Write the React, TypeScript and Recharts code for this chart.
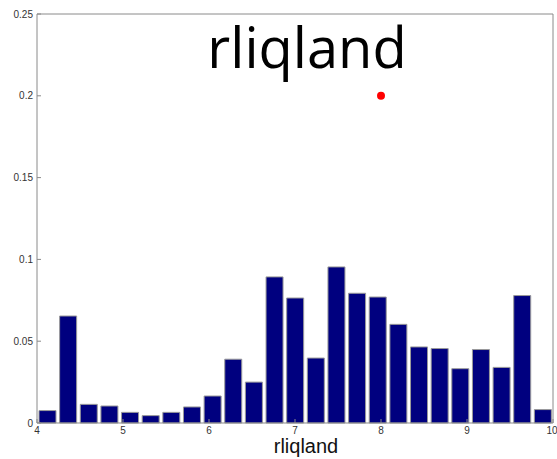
import { Bar, ComposedChart, ReferenceDot, XAxis, YAxis } from "recharts";

// bin centres of the histogram (rliqland)
const binCenters = [
  4.12, 4.36, 4.6, 4.84, 5.08, 5.32, 5.56, 5.8, 6.04, 6.28, 6.52, 6.76, 7.0,
  7.24, 7.48, 7.72, 7.96, 8.2, 8.44, 8.68, 8.92, 9.16, 9.4, 9.64, 9.88,
];
const frequencies = [
  0.0076, 0.0654, 0.0114, 0.0104, 0.0065, 0.0045, 0.0065, 0.0098, 0.0165,
  0.039, 0.025, 0.0893, 0.0764, 0.0397, 0.0954, 0.0793, 0.077, 0.0603, 0.0465,
  0.0455, 0.0332, 0.0449, 0.034, 0.0779, 0.0082,
];
const xTicks = [4, 5, 6, 7, 8, 9, 10];
const yTicks = [0, 0.05, 0.1, 0.15, 0.2, 0.25];
const marker = { x: 8, y: 0.2 };

const axisColor = "#8a8a8a";
const tickStyle = { fill: "#333", fontSize: 10, fontFamily: "Liberation Sans, Arial, sans-serif" };

export default function App() {
  const data = binCenters.map((x, i) => ({ bin: String(x), x, value: frequencies[i] }));

  return (
    <div style={{ position: "absolute", left: 0, top: 0, width: 557, height: 459, background: "#fff" }}>
      <ComposedChart
        width={557}
        height={459}
        data={data}
        margin={{ top: 14, right: 4, left: 0, bottom: 0 }}
      >
        <XAxis
          xAxisId="num"
          dataKey="x"
          type="number"
          domain={[4, 10]}
          allowDataOverflow
          ticks={xTicks}
          height={36}
          stroke={axisColor}
          tickSize={-4}
          tickMargin={8}
          tick={tickStyle}
        />
        <XAxis xAxisId="cat" dataKey="bin" type="category" height={0} hide />
        {/* box edges: top and right axes, ticks pointing inward */}
        <XAxis
          xAxisId="top"
          dataKey="x"
          type="number"
          orientation="top"
          domain={[4, 10]}
          allowDataOverflow
          ticks={xTicks}
          height={10}
          mirror
          tick={false}
          tickSize={4}
          stroke={axisColor}
        />
        <YAxis
          domain={[0, 0.25]}
          ticks={yTicks}
          width={37}
          stroke={axisColor}
          tickSize={-4}
          tickMargin={8}
          tick={tickStyle}
        />
        <YAxis
          yAxisId="r"
          orientation="right"
          domain={[0, 0.25]}
          ticks={yTicks}
          width={10}
          mirror
          tick={false}
          tickSize={4}
          stroke={axisColor}
        />
        <Bar
          xAxisId="cat"
          dataKey="value"
          barSize={17}
          fill="#00007f"
          stroke="#9a9a9a"
          strokeWidth={1}
          isAnimationActive={false}
        />
        <ReferenceDot
          xAxisId="num"
          x={marker.x}
          y={marker.y}
          r={4}
          fill="#ff0000"
          stroke="none"
        />
      </ComposedChart>
      <div
        style={{
          position: "absolute",
          left: 0,
          width: 614,
          top: 18,
          textAlign: "center",
          fontFamily: "Open Sans, sans-serif",
          fontSize: 56,
          lineHeight: "56px",
          color: "#000",
        }}
      >
        rliqland
      </div>
      <div
        style={{
          position: "absolute",
          left: 0,
          width: 612,
          top: 436,
          textAlign: "center",
          fontFamily: "Liberation Sans, Arial, sans-serif",
          fontSize: 20,
          lineHeight: "20px",
          color: "#111",
        }}
      >
        rliqland
      </div>
    </div>
  );
}
